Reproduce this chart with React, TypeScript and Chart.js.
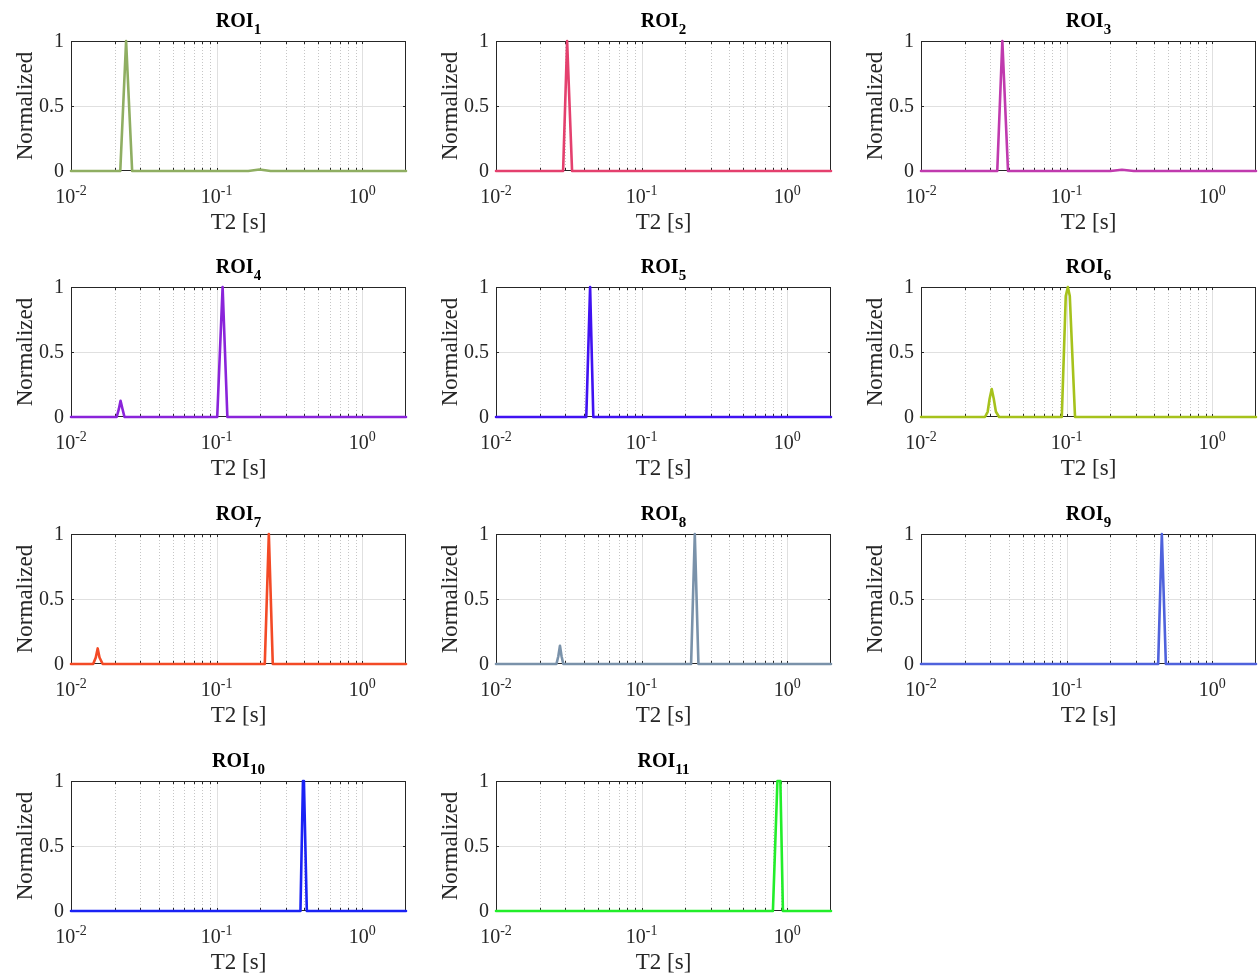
import { useEffect, useRef } from "react";
import { Chart, registerables } from "chart.js";

Chart.register(...registerables);

// Axis ranges and tick values
const T2_MIN = 0.01;
const T2_MAX = 2;
const AMP_TICKS = [0, 0.5, 1];
const AMP_TICK_LABELS = ["0", "0.5", "1"];
const DECADES = [0.01, 0.1, 1];
const DECADE_EXPONENTS = ["-2", "-1", "0"];
const MINOR_T2 = [0.02, 0.03, 0.04, 0.05, 0.06, 0.07, 0.08, 0.09, 0.2, 0.3, 0.4, 0.5, 0.6, 0.7, 0.8, 0.9];

// T2 distributions per ROI (T2 in seconds, normalized amplitude)
const ROI1_T2 = [0.01, 0.0218, 0.0239, 0.0263, 0.165, 0.197, 0.235, 2];
const ROI1_AMP = [0, 0, 1, 0, 0, 0.012, 0, 0];

const ROI2_T2 = [0.01, 0.0289, 0.0308, 0.0333, 2];
const ROI2_AMP = [0, 0, 1, 0, 0];

const ROI3_T2 = [0.01, 0.0334, 0.0362, 0.0396, 0.2, 0.24, 0.29, 2];
const ROI3_AMP = [0, 0, 1, 0, 0, 0.01, 0, 0];

const ROI4_T2 = [0.01, 0.0206, 0.0213, 0.0219, 0.0226, 0.0233, 0.101, 0.11, 0.1186, 2];
const ROI4_AMP = [0, 0, 0.06, 0.125, 0.06, 0, 0, 1, 0, 0];

const ROI5_T2 = [0.01, 0.0417, 0.0443, 0.0466, 2];
const ROI5_AMP = [0, 0, 1, 0, 0];

const ROI6_T2 = [0.01, 0.0275, 0.0287, 0.0296, 0.0306, 0.0316, 0.0327, 0.0344, 0.0927, 0.0987, 0.102, 0.1052, 0.1143, 2];
const ROI6_AMP = [0, 0, 0.04, 0.14, 0.215, 0.14, 0.04, 0, 0, 0.93, 1, 0.93, 0, 0];

const ROI7_T2 = [0.01, 0.0142, 0.0148, 0.01525, 0.0157, 0.0165, 0.2143, 0.2285, 0.2432, 2];
const ROI7_AMP = [0, 0, 0.05, 0.12, 0.05, 0, 0, 1, 0, 0];

const ROI8_T2 = [0.01, 0.026, 0.0268, 0.0275, 0.0282, 0.029, 0.2188, 0.232, 0.2457, 2];
const ROI8_AMP = [0, 0, 0.06, 0.14, 0.06, 0, 0, 1, 0, 0];

const ROI9_T2 = [0.01, 0.4256, 0.451, 0.4808, 2];
const ROI9_AMP = [0, 0, 1, 0, 0];

const ROI10_T2 = [0.01, 0.3767, 0.392, 0.398, 0.4168, 2];
const ROI10_AMP = [0, 0, 1, 1, 0, 0];

const ROI11_T2 = [0.01, 0.798, 0.857, 0.898, 0.935, 2];
const ROI11_AMP = [0, 0, 1, 1, 0, 0];

const ROI_T2 = [ROI1_T2, ROI2_T2, ROI3_T2, ROI4_T2, ROI5_T2, ROI6_T2, ROI7_T2, ROI8_T2, ROI9_T2, ROI10_T2, ROI11_T2];
const ROI_AMP = [ROI1_AMP, ROI2_AMP, ROI3_AMP, ROI4_AMP, ROI5_AMP, ROI6_AMP, ROI7_AMP, ROI8_AMP, ROI9_AMP, ROI10_AMP, ROI11_AMP];
const ROI_SUBSCRIPTS = ["1", "2", "3", "4", "5", "6", "7", "8", "9", "10", "11"];
const ROI_COLORS = [
  "#8FAE62",
  "#E4406E",
  "#C03AAE",
  "#8A24DA",
  "#4012F2",
  "#A6C21C",
  "#F34A26",
  "#7A92AA",
  "#4F62DC",
  "#1A22F5",
  "#22EE2A",
];

// Subplot grid geometry (axes box positions on the page)
const COL_LEFT = [71, 496, 921];
const ROW_TOP = [41, 287, 534, 781];
const BOX_W = 335;
const BOX_H = 130;
const PAD_LEFT = 71;
const PAD_TOP = 41;
const PAD_RIGHT = 2;
const PAD_BOTTOM = 66;

const SERIF = '"Liberation Serif", "Times New Roman", Times, serif';
const INK = "#262626";

function makeFramePlugin(subscript: string) {
  return {
    id: "matlabFrame",
    beforeDatasetsDraw(chart: any) {
      const { ctx, chartArea: a } = chart;
      const xs = chart.scales.x;
      const ys = chart.scales.y;
      ctx.save();

      // minor vertical grid (dotted)
      ctx.lineWidth = 1;
      ctx.strokeStyle = "#c6c6c6";
      ctx.setLineDash([1, 2]);
      for (const v of MINOR_T2) {
        const px = Math.round(xs.getPixelForValue(v)) + 0.5;
        ctx.beginPath();
        ctx.moveTo(px, a.top);
        ctx.lineTo(px, a.bottom);
        ctx.stroke();
      }

      // major grid (solid)
      ctx.setLineDash([]);
      ctx.strokeStyle = "#e0e0e0";
      for (const v of DECADES) {
        if (v <= T2_MIN || v >= T2_MAX) continue;
        const px = Math.round(xs.getPixelForValue(v)) + 0.5;
        ctx.beginPath();
        ctx.moveTo(px, a.top);
        ctx.lineTo(px, a.bottom);
        ctx.stroke();
      }
      for (const v of AMP_TICKS) {
        if (v <= 0 || v >= 1) continue;
        const py = Math.round(ys.getPixelForValue(v)) + 0.5;
        ctx.beginPath();
        ctx.moveTo(a.left, py);
        ctx.lineTo(a.right, py);
        ctx.stroke();
      }

      // axes box
      ctx.strokeStyle = INK;
      ctx.strokeRect(a.left + 0.5, a.top + 0.5, a.right - a.left - 1, a.bottom - a.top - 1);

      // inward tick marks
      const tl = 3;
      ctx.beginPath();
      for (const v of [...DECADES, ...MINOR_T2]) {
        if (v <= T2_MIN || v >= T2_MAX) continue;
        const px = Math.round(xs.getPixelForValue(v)) + 0.5;
        ctx.moveTo(px, a.bottom);
        ctx.lineTo(px, a.bottom - tl);
        ctx.moveTo(px, a.top);
        ctx.lineTo(px, a.top + tl);
      }
      for (const v of AMP_TICKS) {
        if (v <= 0 || v >= 1) continue;
        const py = Math.round(ys.getPixelForValue(v)) + 0.5;
        ctx.moveTo(a.left, py);
        ctx.lineTo(a.left + tl, py);
        ctx.moveTo(a.right, py);
        ctx.lineTo(a.right - tl, py);
      }
      ctx.stroke();
      ctx.restore();
    },
    afterDatasetsDraw(chart: any) {
      const { ctx, chartArea: a } = chart;
      const xs = chart.scales.x;
      const ys = chart.scales.y;
      const cx = (a.left + a.right) / 2;
      const cy = (a.top + a.bottom) / 2;
      ctx.save();
      ctx.fillStyle = INK;

      // y tick labels
      ctx.font = `20px ${SERIF}`;
      ctx.textAlign = "right";
      ctx.textBaseline = "middle";
      AMP_TICKS.forEach((v, i) => {
        ctx.fillText(AMP_TICK_LABELS[i], a.left - 7, ys.getPixelForValue(v) + 1);
      });

      // x tick labels: 10 with superscript exponent
      ctx.textAlign = "left";
      ctx.textBaseline = "alphabetic";
      DECADES.forEach((v, i) => {
        const px = xs.getPixelForValue(v);
        ctx.font = `20px ${SERIF}`;
        const wBase = ctx.measureText("10").width;
        ctx.font = `14px ${SERIF}`;
        const wExp = ctx.measureText(DECADE_EXPONENTS[i]).width;
        const x0 = px - (wBase + wExp) / 2;
        ctx.font = `20px ${SERIF}`;
        ctx.fillText("10", x0, a.bottom + 32);
        ctx.font = `14px ${SERIF}`;
        ctx.fillText(DECADE_EXPONENTS[i], x0 + wBase, a.bottom + 23.5);
      });

      // x axis title
      ctx.font = `23px ${SERIF}`;
      ctx.textAlign = "center";
      ctx.fillText("T2 [s]", cx, a.bottom + 58);

      // y axis title
      ctx.save();
      ctx.translate(a.left - 39, cy);
      ctx.rotate(-Math.PI / 2);
      ctx.textAlign = "center";
      ctx.textBaseline = "alphabetic";
      ctx.fillText("Normalized", 0, 0);
      ctx.restore();

      // panel title: ROI with subscript
      ctx.fillStyle = "#000000";
      ctx.textAlign = "left";
      ctx.font = `bold 20px ${SERIF}`;
      const wMain = ctx.measureText("ROI").width;
      ctx.font = `bold 15px ${SERIF}`;
      const wSub = ctx.measureText(subscript).width;
      const tx = cx - (wMain + wSub) / 2;
      ctx.font = `bold 20px ${SERIF}`;
      ctx.fillText("ROI", tx, a.top - 14);
      ctx.font = `bold 15px ${SERIF}`;
      ctx.fillText(subscript, tx + wMain, a.top - 7);

      ctx.restore();
    },
  };
}

function Panel({ index }: { index: number }) {
  const ref = useRef<HTMLCanvasElement | null>(null);
  const col = index % 3;
  const row = Math.floor(index / 3);
  const left = COL_LEFT[col] - PAD_LEFT;
  const top = ROW_TOP[row] - PAD_TOP;
  const width = PAD_LEFT + BOX_W + PAD_RIGHT;
  const height = PAD_TOP + BOX_H + PAD_BOTTOM;

  useEffect(() => {
    if (!ref.current) return;
    const t2 = ROI_T2[index];
    const amp = ROI_AMP[index];
    const chart = new Chart(ref.current, {
      type: "line",
      data: {
        datasets: [
          {
            data: t2.map((t, i) => ({ x: t, y: amp[i] })),
            borderColor: ROI_COLORS[index],
            borderWidth: 2.6,
            pointRadius: 0,
            tension: 0,
            fill: false,
            borderJoinStyle: "round",
            borderCapStyle: "round",
            clip: 4,
          } as any,
        ],
      },
      options: {
        responsive: false,
        animation: false,
        events: [],
        layout: { padding: { left: PAD_LEFT, top: PAD_TOP, right: PAD_RIGHT, bottom: PAD_BOTTOM } },
        scales: {
          x: { type: "logarithmic", min: T2_MIN, max: T2_MAX, display: false },
          y: { type: "linear", min: 0, max: 1, display: false },
        },
        plugins: { legend: { display: false }, tooltip: { enabled: false }, title: { display: false } },
      },
      plugins: [makeFramePlugin(ROI_SUBSCRIPTS[index])],
    });
    return () => chart.destroy();
  }, [index]);

  return (
    <canvas
      ref={ref}
      width={width}
      height={height}
      style={{ position: "absolute", left, top, width, height }}
    />
  );
}

export default function App() {
  return (
    <div
      style={{
        position: "absolute",
        left: 0,
        top: 0,
        width: 1258,
        height: 979,
        overflow: "hidden",
        background: "#ffffff",
      }}
    >
      {ROI_T2.map((_, i) => (
        <Panel key={i} index={i} />
      ))}
    </div>
  );
}
